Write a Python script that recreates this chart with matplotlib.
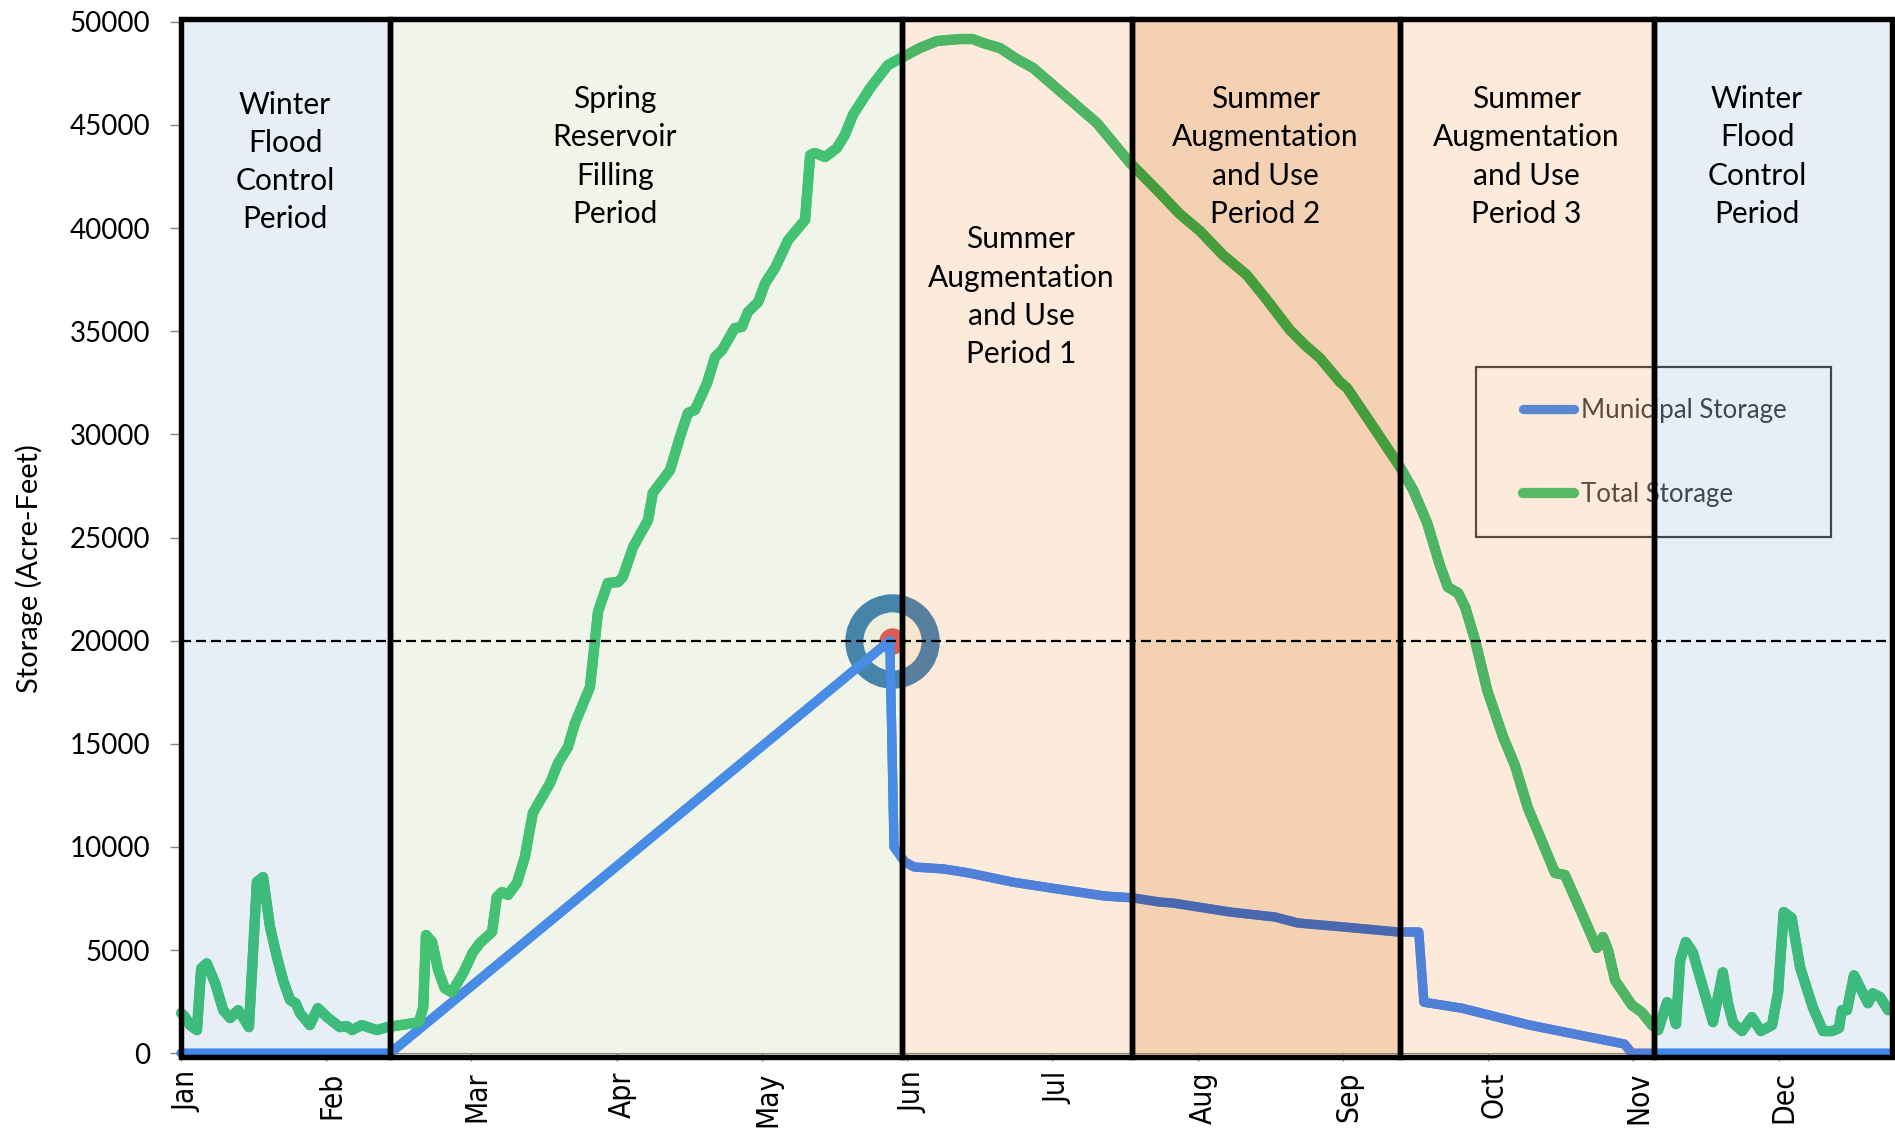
import matplotlib
matplotlib.use("Agg")
import matplotlib.pyplot as plt
from matplotlib.patches import Rectangle
from matplotlib.transforms import ScaledTranslation

# storage values (day of year, acre-feet)
total_days = [0, .9, 1.9, 3.4, 4.3, 5.5, 7.3, 9, 10.5, 12.2, 13.2, 14.5, 16.2, 17.5, 19, 20.5, 21.8, 23.3, 24.5, 25.4,
              27.5, 29.2, 31.2, 33.9, 35.4, 36.5, 38.6, 41.8, 44, 48.2, 50.8, 51.7, 52.3, 53.6, 54.9, 56.3, 57.8,
              60.2, 62.3, 63.8, 66.4, 67.4, 68.5, 69.8, 71.7, 73.4, 75.1, 78.8, 80.5, 82.6, 84.1, 87.3, 89, 91.1,
              93.3, 94.3, 96.5, 99.7, 100.7, 104.4, 106.5, 108.2, 109.7, 112.3, 114, 115.5, 118.2, 119.7, 121,
              123.2, 124.7, 126.8, 129.6, 133.2, 134.3, 135.3, 137.5, 140, 141.7, 143.4, 147.1, 150.9, 154.1,
              157.7, 161.4, 166.3, 169, 171.2, 174.8, 178.4, 181.9, 186.1, 193, 195.5, 202.6, 208.3, 213.2, 217.5,
              222.4, 227.5, 231.8, 236.7, 239.9, 243.1, 247.4, 248.9, 253.8, 260.2, 263, 266, 268.7, 270.4, 272.6,
              274.1, 276.2, 278.8, 282.2, 284.7, 287.5, 290.1, 293.3, 295.4, 297.1, 300.1, 302.2, 303.5, 304.6,
              306.1, 309.7, 311.8, 314, 315.3, 317.2, 318.2, 319.1, 320, 321.2, 322.7, 327, 329.1, 330.2, 331.3,
              333.2, 335.3, 337.2, 339.6, 340.9, 342.1, 343.8, 345.6, 348.3, 350.5, 352.4, 353.9, 354.5, 355.6,
              357.1, 360.1, 361.1, 362.7, 364.4]
total_storage = [1950, 1752, 1366, 1124, 4117, 4358, 3393, 2090, 1704, 2090, 1752, 1269, 8303, 8545, 6122, 4647, 3538,
                 2572, 2427, 1945, 1366, 2186, 1752, 1269, 1317, 1124, 1366, 1124, 1269, 1414, 1511, 2234, 5734, 5395,
                 4020, 3151, 2958, 3875, 4889, 5346, 5880, 7576, 7818, 7674, 8255, 9515, 11648, 13102, 14072, 14847,
                 16010, 17756, 21391, 22797, 22845, 23087, 24542, 25850, 27159, 28274, 29874, 31037, 31183, 32491,
                 33752, 34090, 35157, 35205, 35932, 36418, 37339, 38066, 39423, 40392, 43543, 43639, 43446, 43882,
                 44512, 45481, 46790, 47905, 48293, 48729, 49069, 49165, 49165, 48972, 48729, 48196, 47760, 46936,
                 45579, 45094, 43155, 41846, 40683, 39859, 38696, 37726, 36514, 35061, 34333, 33703, 32540, 32248,
                 30600, 28419, 27305, 25705, 23670, 22603, 22312, 21633, 20034, 17610, 15332, 13974, 11890, 10485,
                 8739, 8643, 7770, 6219, 5104, 5638, 5007, 3538, 2331, 1993, 1366, 1124, 2476, 2234, 1414, 4503, 5395,
                 4889, 1511, 3924, 2427, 1462, 1076, 1752, 1076, 1366, 2958, 6849, 6559, 4165, 2234, 1076, 1076, 1221,
                 2090, 2090, 3779, 2427, 2910, 2717, 2090]

municipal_days = [0, 44.6, 151.3, 152.2, 154.5, 156.5, 162.9, 168.2, 177.4, 185.7, 197.2, 203.4, 208.8, 211.7, 223.9,
                  233.5, 238.4, 248.2, 259.8, 264.2, 265.3, 273.4, 287.9, 308.1, 309.7, 365]
municipal_storage = [0, 0, 20000, 10000, 9273, 9031, 8933, 8739, 8303, 8012, 7624, 7528, 7334, 7285, 6849, 6607, 6316,
                     6122, 5880, 5880, 2476, 2186, 1366, 449, 0, 0]

month_ticks = list(range(0, 365, 31))
month_labels = ["Jan", "Feb", "Mar", "Apr", "May", "Jun", "Jul", "Aug", "Sep", "Oct", "Nov", "Dec"]

# period boxes
period_starts = [0, 44.6, 153.9, 203, 260.2, 314.4]
period_ends = [44.6, 153.9, 203, 260.2, 314.4, 365.2]
period_colors = ["#3F7ABC", "#93AC50", "#F28224", "#E3822C", "#F28224", "#3F7ABC"]
period_alphas = [0.12, 0.12, 0.16, 0.36, 0.16, 0.12]
# the line colours change inside each box
period_green = ["#3CBB7C", "#43C273", "#4DB564", "#459D3C", "#4DB564", "#3CBB7C"]
period_blue = ["#3F87EC", "#488CE5", "#5080D8", "#4A68B0", "#5080D8", "#3F87EC"]
period_labels = ["Winter\nFlood\nControl\nPeriod",
                 "Spring\nReservoir\nFilling\nPeriod",
                 "Summer\nAugmentation\nand Use\nPeriod 1",
                 "Summer\nAugmentation\nand Use\nPeriod 2",
                 "Summer\nAugmentation\nand Use\nPeriod 3",
                 "Winter\nFlood\nControl\nPeriod"]
label_days = [22.2, 92.6, 179.3, 231.4, 287.1, 336.4]
label_values = [43200, 43470, 36680, 43470, 43470, 43470]

target_level = 20000
target_day = 151.8

plt.rcParams["font.family"] = "Lato"
fig = plt.figure(figsize=(18.95, 11.29), dpi=100)
ax = fig.add_axes([181 / 1895, 1 - 1053.3 / 1129, 1710 / 1895, 1031.5 / 1129])

# target marker at the 20000 level
ax.plot([target_day], [target_level], "o", ms=55, mfc="#f9f9ef", mec="#3c7fb6", mew=13, zorder=1.7, clip_on=False)
ax.plot([target_day], [target_level], "o", ms=19, mfc="#e8525a", mec="none", zorder=1.8, clip_on=False)

ax.plot(municipal_days, municipal_storage, color="#3E8AF1", lw=6.7, label="Municipal Storage",
        solid_capstyle="round", solid_joinstyle="round", zorder=2, clip_on=False)
ax.plot(total_days, total_storage, color="#3BC572", lw=7.4, label="Total Storage",
        solid_capstyle="round", solid_joinstyle="round", zorder=2.1, clip_on=False)

ax.set_xlim(0, 365)
ax.set_ylim(0, 50000)
ax.set_xticks(month_ticks)
ax.set_xticklabels(month_labels, rotation=90, family="DejaVu Sans", stretch="condensed", fontsize=21.5)
ax.set_yticks(range(0, 50001, 5000))
ax.tick_params(axis="x", length=6, width=1, color="#868686", pad=7)
ax.tick_params(axis="y", length=8, width=1, color="#868686", labelsize=20, pad=14)
for lab in ax.get_xticklabels():
    lab.set_transform(lab.get_transform() + ScaledTranslation(4 / 72, 0, fig.dpi_scale_trans))
for s in ["top", "right", "left"]:
    ax.spines[s].set_visible(False)
ax.spines["bottom"].set_color("#868686")
ax.set_ylabel("Storage (Acre-Feet)", fontsize=20.9, va="center")
ax.yaxis.set_label_coords(-0.089, 0.4695)

# legend sits under the tinted boxes, like the rest of the chart
leg = ax.legend(loc="center left", bbox_to_anchor=(286.4, 29120), bbox_transform=ax.transData, frameon=False,
                fontsize=18.6, labelcolor="#404040", handlelength=2.0, handletextpad=0.27, labelspacing=2.3,
                borderpad=0, borderaxespad=0)
leg.set_zorder(2.5)
ax.add_patch(Rectangle((276.4, 25025), 352.2 - 276.4, 33265 - 25025, fill=False, ec="#404040", lw=1.6,
                       zorder=2.5, clip_on=False))

for i in range(len(period_starts)):
    w = period_ends[i] - period_starts[i]
    box = Rectangle((period_starts[i], -180), w, 50320, fc=period_colors[i], alpha=period_alphas[i],
                    ec="none", zorder=3, clip_on=False)
    ax.add_patch(box)
    blue_part, = ax.plot(municipal_days, municipal_storage, color=period_blue[i], lw=6.7,
                         solid_capstyle="round", solid_joinstyle="round", zorder=3.4)
    blue_part.set_clip_path(box)
    green_part, = ax.plot(total_days, total_storage, color=period_green[i], lw=7.4,
                          solid_capstyle="round", solid_joinstyle="round", zorder=3.5)
    green_part.set_clip_path(box)

ax.plot([0, 365], [target_level, target_level], color="black", lw=1.6, dashes=(4.5, 2.25), zorder=3.6)

for i in range(len(period_starts)):
    w = period_ends[i] - period_starts[i]
    ax.add_patch(Rectangle((period_starts[i], -180), w, 50320, fill=False, ec="black", lw=3.9,
                           joinstyle="miter", zorder=4, clip_on=False))
    ax.text(label_days[i], label_values[i], period_labels[i], ha="center", va="center", fontsize=21.5,
            linespacing=1.44, color="black", zorder=5)

plt.savefig("out.png", dpi=100)
